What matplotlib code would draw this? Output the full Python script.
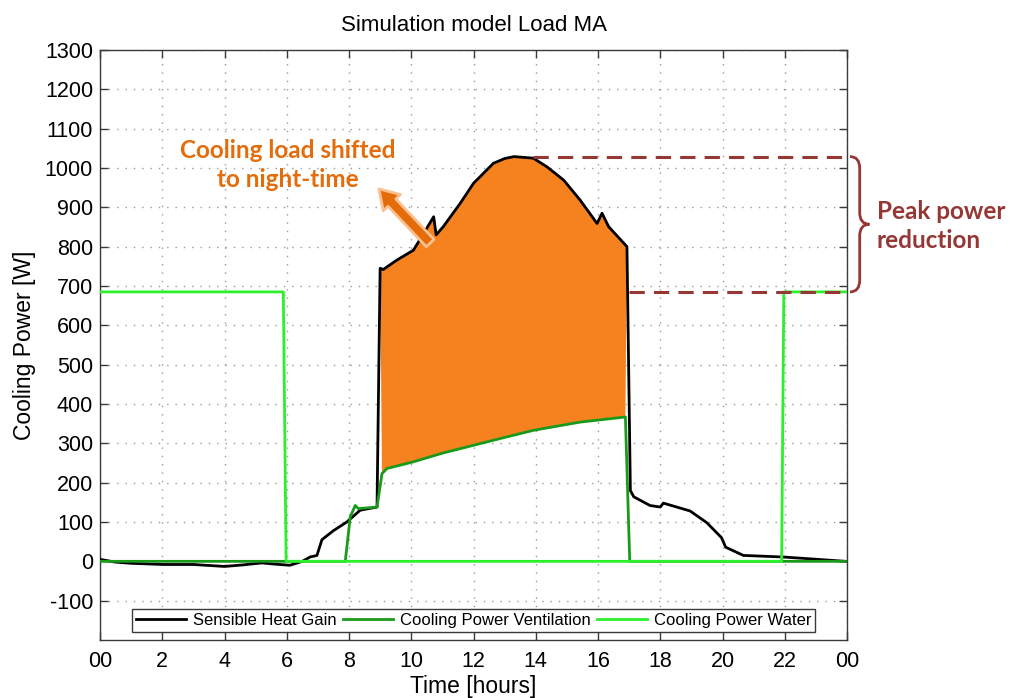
import matplotlib
matplotlib.use("Agg")
import matplotlib.pyplot as plt
import matplotlib.transforms as mtransforms
from matplotlib.path import Path
from matplotlib.patches import PathPatch
import numpy as np

plt.rcParams["font.family"] = ["Liberation Sans", "DejaVu Sans"]
plt.rcParams["axes.unicode_minus"] = False

# Sensible heat gain (black)
heat_t = [0.0, 0.5, 1.0, 2.0, 3.0, 4.0, 4.6, 5.2, 5.6, 6.1, 6.5, 6.75, 6.97, 7.13,
          7.5, 7.93, 8.36, 8.9, 9.0, 9.1, 9.54, 10.07, 10.4, 10.72, 10.8, 11.03,
          11.58, 12.0, 12.64, 13.0, 13.3, 13.92, 14.36, 14.9, 15.43, 15.97, 16.13,
          16.34, 16.93, 17.04, 17.15, 17.67, 18.0, 18.1, 18.96, 19.5, 19.97, 20.1,
          20.67, 21.0, 21.95, 22.7, 23.95, 24.0]
heat_w = [5, -2, -5, -8, -8, -13, -9, -4, -7, -10, 0, 11, 15, 55,
          78, 100, 130, 138, 745, 742, 766, 791, 834, 876, 830, 851,
          911, 961, 1012, 1024, 1029, 1025, 1003, 969, 918, 859, 885,
          851, 800, 180, 164, 142, 138, 148, 128, 98, 60, 36,
          15, 14, 11, 7, 0, 0]

# Cooling power ventilation (dark green)
vent_t = [0.0, 7.88, 8.04, 8.2, 8.3, 8.9, 9.06, 9.22, 10.07, 11.0, 12.0, 13.0,
          13.92, 15.43, 16.88, 17.02, 24.0]
vent_w = [0, 0, 113, 142, 134, 138, 223, 236, 253, 275, 295, 315,
          333, 354, 367, 0, 0]

# Cooling power water (bright green)
water_t = [0.0, 5.89, 5.98, 21.9, 21.97, 24.0]
water_w = [685, 685, 0, 0, 685, 685]

x_ticks = list(range(0, 25, 2))
x_labels = ["00"] + [str(h) for h in range(2, 24, 2)] + ["00"]
y_ticks = list(range(-100, 1301, 100))

ORANGE_FILL = "#f5821f"
ORANGE_TEXT = "#e46c0a"
DARK_RED = "#953735"
SPINE = "#3a3a3a"

fig = plt.figure(figsize=(10.16, 6.98), dpi=100)
ax = fig.add_axes([100 / 1016, 58 / 698, 747 / 1016, 590 / 698])

# shifted cooling load: area between heat gain and ventilation during the day
heat_t_arr, heat_w_arr = np.array(heat_t), np.array(heat_w)
vent_t_arr, vent_w_arr = np.array(vent_t), np.array(vent_w)
top = (heat_t_arr >= 9.0) & (heat_t_arr <= 16.93)
bot = (vent_t_arr >= 9.06) & (vent_t_arr <= 16.88)
poly_t = np.concatenate([heat_t_arr[top], vent_t_arr[bot][::-1]])
poly_w = np.concatenate([heat_w_arr[top], vent_w_arr[bot][::-1]])
ax.fill(poly_t, poly_w, color=ORANGE_FILL, lw=0, zorder=1)

ax.plot(heat_t, heat_w, color="black", lw=2, label="Sensible Heat Gain", zorder=3)
ax.plot(vent_t, vent_w, color="#1a9a1a", lw=2, label="Cooling Power Ventilation", zorder=4)
ax.plot(water_t, water_w, color="#2cf02c", lw=2, label="Cooling Power Water", zorder=5)

# peak reduction markers
peak = max(heat_w)
peak_t = heat_t[heat_w.index(peak)]
water_max = max(water_w)
ax.hlines(peak, peak_t + 0.6, 24, colors=DARK_RED, linestyles=(0, (5, 3)), lw=2.2, zorder=6)
ax.hlines(water_max, 17.0, 24, colors=DARK_RED, linestyles=(0, (5, 3)), lw=2.2, zorder=6)

# curly brace to the right of the axes
trans = mtransforms.blended_transform_factory(ax.transAxes, ax.transData)
x0, xm, x1 = 1.004, 1.017, 1.030
yt, yb = peak, water_max
ymid = (yt + yb) / 2
r = 30
verts = [(x0, yt), (xm, yt), (xm, yt - r),
         (xm, ymid + r),
         (xm, ymid), (x1, ymid),
         (xm, ymid), (xm, ymid - r),
         (xm, yb + r),
         (xm, yb), (x0, yb)]
codes = [Path.MOVETO, Path.CURVE3, Path.CURVE3,
         Path.LINETO,
         Path.CURVE3, Path.CURVE3,
         Path.CURVE3, Path.CURVE3,
         Path.LINETO,
         Path.CURVE3, Path.CURVE3]
ax.add_patch(PathPatch(Path(verts, codes), transform=trans, fc="none",
                       ec=DARK_RED, lw=2, clip_on=False))
ax.text(1.040, ymid - 5, "Peak power\nreduction", transform=trans, ha="left", va="center",
        fontsize=17.5, fontweight="bold", color=DARK_RED, family="Lato", linespacing=1.3)

# annotation arrow and text
ax.annotate("", xy=(8.9, 952), xytext=(10.67, 804),
            arrowprops=dict(arrowstyle="simple,head_length=0.8,head_width=1.0,tail_width=0.45",
                            fc=ORANGE_TEXT, ec="#fac090", lw=2, mutation_scale=17),
            zorder=7)
ax.text(6.04, 1008, "Cooling load shifted\nto night-time", ha="center", va="center",
        fontsize=17.5, fontweight="bold", color=ORANGE_TEXT, family="Lato", linespacing=1.3,
        zorder=7)

ax.set_xlim(0, 24)
ax.set_ylim(-200, 1300)
ax.set_xticks(x_ticks)
ax.set_xticklabels(x_labels)
ax.set_yticks(y_ticks)
ax.grid(True, color="#9a9a9a", linestyle=(0, (1, 5)), lw=1)
ax.set_axisbelow(True)
ax.tick_params(direction="in", top=True, right=True, length=6, width=1,
               color=SPINE, labelsize=15.5)
ax.tick_params(axis="x", pad=8)
ax.tick_params(axis="y", pad=5)
for s in ax.spines.values():
    s.set_color(SPINE)
    s.set_linewidth(1)

ax.set_xlabel("Time [hours]", fontsize=16.5, labelpad=2)
ax.set_ylabel("Cooling Power [W]", fontsize=16.5, labelpad=6)
ax.set_title("Simulation model Load MA", fontsize=16, pad=14)

leg = ax.legend(loc="lower center", bbox_to_anchor=(0.5, 0.0135), ncol=3, fontsize=12,
                frameon=True, fancybox=False, edgecolor=SPINE, handlelength=3,
                handletextpad=0.4, columnspacing=0.4, borderpad=0.25, borderaxespad=0)
leg.get_frame().set_linewidth(1)
leg.get_frame().set_alpha(1)
leg.set_zorder(10)

fig.savefig("out.png", dpi=100)
